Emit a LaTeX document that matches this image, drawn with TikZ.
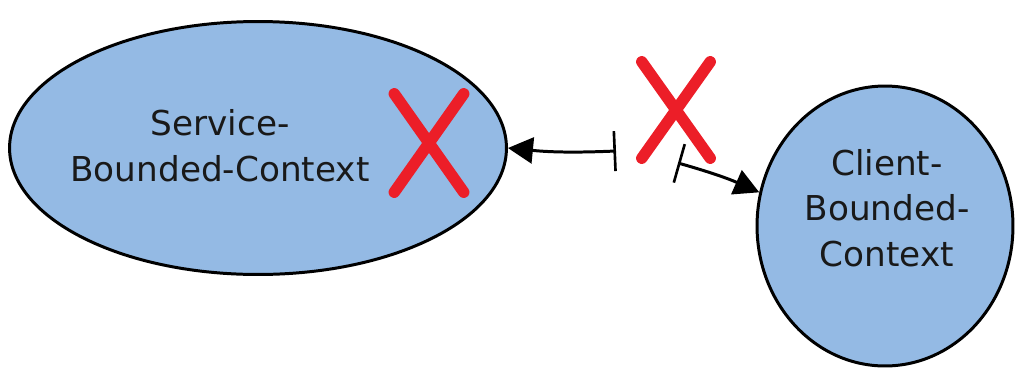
\documentclass[tikz,border=0pt]{standalone}
\usepackage{fontspec}
\setmainfont{DejaVu Sans}
\usetikzlibrary{shapes.geometric, shapes.misc, arrows.meta}
\definecolor{ctxblue}{RGB}{148,186,228}
\definecolor{crossred}{RGB}{236,30,40}

\begin{document}
\begin{tikzpicture}[
    x=0.02cm, y=-0.02cm,
    every node/.style={font=\fontsize{19.5}{26}\selectfont, text=black!90},
    context/.style={ellipse, draw=black, line width=1.7pt, fill=ctxblue, inner sep=0pt},
    ctxtext/.style={align=center, inner sep=0pt},
    crossmark/.style={cross out, draw=crossred, line width=6.5pt, line cap=round,
                      inner sep=0pt},
    flow/.style={{Bar[width=0.8cm, line width=1.5pt]}-{Triangle[length=0.5cm, width=0.52cm]},
                 line width=1.7pt},
]
\useasboundingbox (0,0) rectangle (1016,369);

% ── Bounded contexts ─────────────────────────────────────────
\node[context, minimum width=9.94cm, minimum height=5.06cm] (svc)    at (258,148) {};
\node[context, minimum width=5.12cm, minimum height=5.6cm]  (client) at (885,226) {};

\node[ctxtext] (svctext)    at (220,146) {Service-\\Bounded-Context};
\node[ctxtext] (clienttext) at (887,208) {Client-\\Bounded-\\Context};

% ── Broken relationship ──────────────────────────────────────
\coordinate (cutsvc)    at (616,151);
\coordinate (cutclient) at (678,163);

\draw[flow] (cutsvc)    to[bend left=4]  (svc.east);
\draw[flow] (cutclient) to[bend left=4]  (client.165);

% ── Crosses ──────────────────────────────────────────────────
\node[crossmark, minimum width=1.16cm, minimum height=1.74cm] (xsvc)  at (429,143) {};
\node[crossmark, minimum width=1.14cm, minimum height=1.7cm]  (xlink) at (676,110) {};

\end{tikzpicture}
\end{document}
